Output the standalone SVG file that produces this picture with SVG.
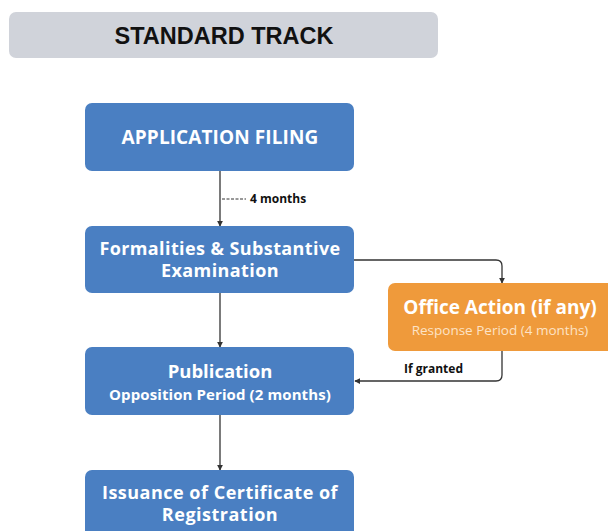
<svg xmlns="http://www.w3.org/2000/svg" width="608" height="531" viewBox="0 0 608 531">
<defs>
<marker id="ah" viewBox="0 0 8 8" refX="7" refY="4" markerWidth="6" markerHeight="6" markerUnits="userSpaceOnUse" orient="auto">
<path d="M0,0 L8,4 L0,8 z" fill="#333"/>
</marker>
<style>
.blue{fill:#4a7fc2}
.orange{fill:#ef9a3b}
.wt{fill:#fff;font-family:"Open Sans","Lato",sans-serif;font-weight:bold;text-anchor:middle}
.conn{fill:none;stroke:#333;stroke-width:1.3}
.lbl{font-family:"Open Sans","Lato",sans-serif;font-weight:bold;font-size:12px;fill:#111}
</style>
</defs>
<rect width="608" height="531" fill="#fff"/>
<g id="title">
<rect x="9" y="12" width="429" height="46" rx="7" fill="#d0d3da"/>
<text x="224" y="44" font-family="Liberation Sans, Arial, sans-serif" font-weight="bold" font-size="23.5" text-anchor="middle" fill="#111">STANDARD TRACK</text>
</g>
<g id="connectors">
<line class="conn" x1="220" y1="171" x2="220" y2="226" marker-end="url(#ah)"/>
<line x1="222" y1="199" x2="246" y2="199" stroke="#333" stroke-width="1" stroke-dasharray="3,1.5"/>
<text class="lbl" x="250" y="203">4 months</text>
<path class="conn" d="M354,260 H496 Q502,260 502,266 V283" marker-end="url(#ah)"/>
<line class="conn" x1="220" y1="293" x2="220" y2="347" marker-end="url(#ah)"/>
<path class="conn" d="M502,351 V375 Q502,381 496,381 H355" marker-end="url(#ah)"/>
<text class="lbl" x="404" y="373">If granted</text>
<line class="conn" x1="220" y1="415" x2="220" y2="470" marker-end="url(#ah)"/>
</g>
<g id="application-filing">
<rect class="blue" x="85" y="103" width="269" height="68" rx="7"/>
<text class="wt" x="220" y="144" font-size="19" letter-spacing="0.1">APPLICATION FILING</text>
</g>
<g id="formalities">
<rect class="blue" x="85" y="226" width="269" height="67" rx="7"/>
<text class="wt" x="220" y="255" font-size="18" letter-spacing="0.4">Formalities &amp; Substantive</text>
<text class="wt" x="220" y="277" font-size="18" letter-spacing="0.4">Examination</text>
</g>
<g id="office-action">
<rect class="orange" x="388" y="283" width="230" height="68" rx="7"/>
<text class="wt" x="500" y="314" font-size="19">Office Action (if any)</text>
<text x="500" y="335" font-family="Open Sans, Lato, sans-serif" font-size="13.5" text-anchor="middle" fill="#fde3c6">Response Period (4 months)</text>
</g>
<g id="publication">
<rect class="blue" x="85" y="347" width="269" height="68" rx="7"/>
<text class="wt" x="220" y="378" font-size="18.5">Publication</text>
<text class="wt" x="220" y="399.5" font-size="15" letter-spacing="0.1">Opposition Period (2 months)</text>
</g>
<g id="issuance">
<rect class="blue" x="85" y="470" width="269" height="75" rx="7"/>
<text class="wt" x="220" y="499" font-size="18" letter-spacing="0.5">Issuance of Certificate of</text>
<text class="wt" x="220" y="521" font-size="18" letter-spacing="0.5">Registration</text>
</g>
</svg>
